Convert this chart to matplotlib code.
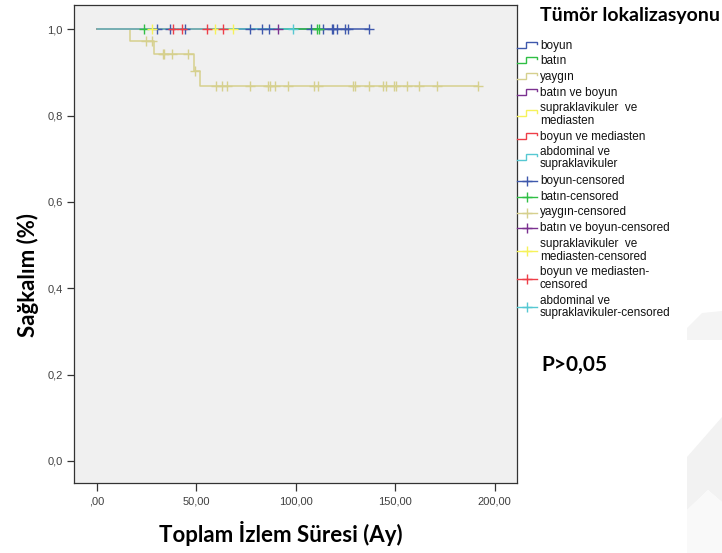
import numpy as np
import matplotlib
matplotlib.use("Agg")
import matplotlib.pyplot as plt
from matplotlib.patches import Polygon

# ---- data -------------------------------------------------------------
group_names = ["boyun", "batın", "yaygın", "batın ve boyun",
               "supraklavikuler  ve\nmediasten", "boyun ve mediasten",
               "abdominal ve\nsupraklavikuler"]
censor_names = ["boyun-censored", "batın-censored", "yaygın-censored",
                "batın ve boyun-censored",
                "supraklavikuler  ve\nmediasten-censored",
                "boyun ve mediasten-\ncensored",
                "abdominal ve\nsupraklavikuler-censored"]
group_colors = ["#3e58ac", "#2fbf45", "#d6d08e", "#7b3190",
                "#f6f25a", "#ee3e48", "#56c8d2"]

# event times and survival after each event (only "yaygın" has events)
event_times = {
    "yaygın": [16.7, 28.8, 49.0, 51.9],
}
event_surv = {
    "yaygın": [0.972, 0.943, 0.903, 0.868],
}
# censored observation times per group
censor_times = {
    "boyun": [30.5, 36.8, 44.5, 77.0, 82.9, 86.7, 107.7, 113.9, 118.0,
              118.9, 120.6, 124.8, 126.5, 137.0],
    "batın": [23.8, 110.8, 111.8],
    "yaygın": [25.0, 27.6, 33.2, 33.8, 37.7, 45.7, 49.3, 60.0, 62.8, 65.3,
               77.0, 86.2, 87.1, 89.6, 96.3, 109.2, 111.4, 128.9, 129.8,
               137.0, 144.0, 145.2, 149.4, 150.4, 155.8, 162.0, 170.9, 191.8],
    "batın ve boyun": [91.3],
    "supraklavikuler  ve\nmediasten": [27.6, 59.4, 68.6],
    "boyun ve mediasten": [38.5, 42.7, 55.6, 63.6],
    "abdominal ve\nsupraklavikuler": [98.8],
}

x_ticks = [0, 50, 100, 150, 200]
x_tick_labels = [",00", "50,00", "100,00", "150,00", "200,00"]
y_ticks = [0.0, 0.2, 0.4, 0.6, 0.8, 1.0]
y_tick_labels = ["0,0", "0,2", "0,4", "0,6", "0,8", "1,0"]

# ---- figure -----------------------------------------------------------
W, H = 722, 553
fig = plt.figure(figsize=(W / 100, H / 100), dpi=100)
fig.patch.set_facecolor("white")

ax_l, ax_r, ax_t, ax_b = 74, 517, 5, 483
ax = fig.add_axes([ax_l / W, 1 - ax_b / H, (ax_r - ax_l) / W, (ax_b - ax_t) / H])
ax.set_facecolor("#f0f0f0")
ax.set_xlim(-11.4, 211.2)
ax.set_ylim(-0.051, 1.056)
for s in ax.spines.values():
    s.set_color("#333333")
    s.set_linewidth(0.9)

ax.set_xticks(x_ticks)
ax.set_xticklabels(x_tick_labels)
ax.set_yticks(y_ticks)
ax.set_yticklabels(y_tick_labels)
ax.tick_params(axis="x", direction="out", length=6, width=0.9, pad=4,
               labelsize=8, labelcolor="#404040", color="#333333")
ax.tick_params(axis="y", direction="out", length=5, width=0.9, pad=3,
               labelsize=8, labelcolor="#404040", color="#333333")
for lab in ax.get_xticklabels() + ax.get_yticklabels():
    lab.set_family("Liberation Sans")


def km_curve(name):
    """Step coordinates of a Kaplan-Meier curve up to the last observation."""
    t_ev = event_times.get(name, [])
    s_ev = event_surv.get(name, [])
    t_end = max(censor_times[name] + list(t_ev))
    xs = [0.0] + list(t_ev) + [t_end]
    ys = [1.0] + list(s_ev) + [s_ev[-1] if s_ev else 1.0]
    return np.array(xs), np.array(ys)


def surv_at(name, t):
    t_ev = np.array(event_times.get(name, []))
    s_ev = np.array(event_surv.get(name, []))
    idx = np.searchsorted(t_ev, t, side="right")
    return np.where(idx == 0, 1.0, s_ev[np.maximum(idx - 1, 0)] if len(s_ev) else 1.0)


# survival lines
for name, col in zip(group_names, group_colors):
    xs, ys = km_curve(name)
    ax.step(xs, ys, where="post", color=col, lw=1.1, zorder=2)

# censor marks
for name, col in zip(group_names, group_colors):
    ct = np.array(censor_times[name])
    ax.plot(ct, surv_at(name, ct), linestyle="none", marker="+", ms=6.5,
            mew=1.0, color=col, zorder=3)

# ---- annotation layer in pixel coordinates ------------------------------
ov = fig.add_axes([0, 0, 1, 1])
ov.set_xlim(0, W)
ov.set_ylim(H, 0)
ov.axis("off")
ov.patch.set_visible(False)

# faint watermark shapes at the right edge
ov.add_patch(Polygon([(687, 340), (687, 328), (702, 313), (722, 311), (722, 340)],
                     closed=True, facecolor="#f4f4f4", edgecolor="none", zorder=0))
ov.add_patch(Polygon([(687, 457), (722, 417), (722, 502), (708, 490), (687, 510)],
                     closed=True, facecolor="#f2f2f2", edgecolor="none", zorder=0))
ov.add_patch(Polygon([(687, 510), (708, 490), (722, 502), (722, 553), (687, 553)],
                     closed=True, facecolor="#f9f9f9", edgecolor="none", zorder=0))

bold_font = "Lato"
ov.text(540, 15, "Tümör lokalizasyonu", fontsize=14, fontweight="bold",
        family=bold_font, ha="left", va="center", color="black")

leg_font = dict(fontsize=8.5, family="Liberation Sans", color="#111111",
                ha="left", va="center", linespacing=1.08)
x0, x1, xm = 517, 537, 526
line_centers = [46, 61, 77, 93, 114.5, 137, 158]
for name, col, yc in zip(group_names, group_colors, line_centers):
    ov.plot([x0, xm, xm, x1, x1], [yc + 1.5, yc + 1.5, yc - 4.5, yc - 4.5, yc - 2],
            color=col, lw=1.0, solid_joinstyle="miter")
    ov.text(540, yc, name, **leg_font)

cens_centers = [181, 197, 212.5, 228, 250.5, 278.5, 307]
for name, col, yc in zip(censor_names, group_colors, cens_centers):
    ov.plot([x0, x1], [yc, yc], color=col, lw=1.0)
    ov.plot([527], [yc], marker="+", ms=7.5, mew=1.0, color=col)
    ov.text(540, yc, name, **leg_font)

ov.text(541, 365, "P>0,05", fontsize=15, fontweight="bold", family=bold_font,
        ha="left", va="center", color="black")

# axis titles
ov.text(281, 533, "Toplam İzlem Süresi (Ay)", fontsize=16, fontweight="bold",
        family=bold_font, ha="center", va="center", color="black")
ov.text(28, 275, "Sağkalım (%)", fontsize=16, fontweight="bold",
        family=bold_font, ha="center", va="center", rotation=90, color="black")

fig.savefig("out.png", dpi=100, facecolor="white")
